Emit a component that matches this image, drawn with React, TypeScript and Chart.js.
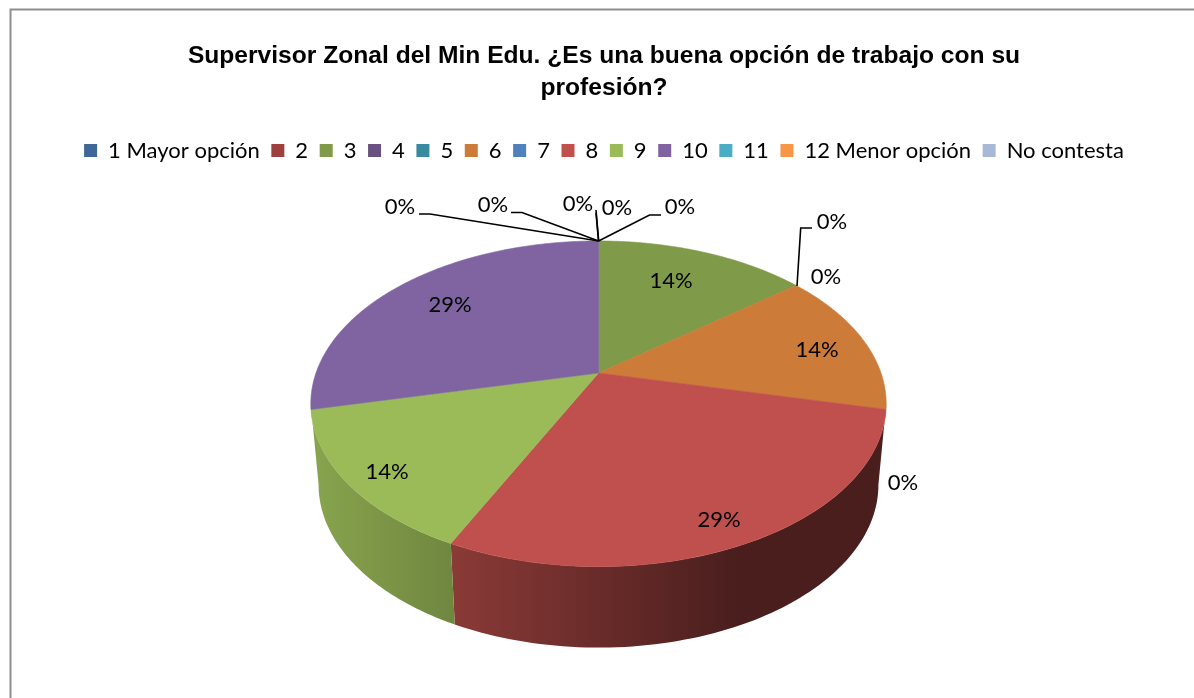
import React, { useEffect, useRef } from "react";
import { Chart, registerables } from "chart.js";

Chart.register(...registerables);

const categories = ["1 Mayor opción", "2", "3", "4", "5", "6", "7", "8", "9", "10", "11", "12 Menor opción", "No contesta"];
const responses = [0, 0, 1, 0, 0, 1, 0, 2, 1, 2, 0, 0, 0];
const sliceColors = ["#3F6797", "#9E413E", "#7F9A48", "#69527F", "#3A8A9F", "#CC7B38", "#4F81BD", "#C0504D", "#9BBB59", "#8064A2", "#4BACC6", "#F79646", "#A9B8D6"];
const titleLines = ["Supervisor Zonal del Min Edu. ¿Es una buena opción de trabajo con su", "profesión?"];

// page-space centres for the data labels, one per category
const labelCentres = [
  [617, 208], [680, 207], [671, 281], [832, 222], [826, 277], [817, 350], [903, 483],
  [719, 520], [387, 472], [450, 305], [400, 207], [493, 205], [578, 204],
];
// leader lines, by category index
const leaders: Record<number, number[][]> = {
  0: [[596, 210], [598.6, 241]],
  1: [[661, 215], [649.5, 215], [598.6, 241]],
  3: [[812, 228], [800.7, 228], [797, 286]],
  10: [[419, 214], [430, 214], [598.6, 241]],
  11: [[511, 212.5], [522, 212.5], [598.6, 241]],
  12: [[596, 213], [598.6, 241]],
};

// perspective view of the pie disc
const view = { hx: 598.5, hy: 373, a: 282.5, b: 157, k: 0.189, baseScaleX: 0.973, baseDrop: 81 };
const shadeStops = [[318, 0.87], [452, 0.72], [740, 0.38], [890, 0.38]];

function topPoint(theta: number, r = 1): [number, number] {
  const u = Math.sin(theta) * r;
  const v = -Math.cos(theta) * r;
  const w = 1 - view.k * v;
  return [view.hx + (view.a * u) / w, view.hy + (view.b * v) / w];
}
function basePoint(theta: number): [number, number] {
  const [x, y] = topPoint(theta);
  return [view.hx + (x - view.hx) * view.baseScaleX, y + view.baseDrop];
}
function hexToRgb(hex: string) {
  const n = parseInt(hex.slice(1), 16);
  return [(n >> 16) & 255, (n >> 8) & 255, n & 255];
}

const pie3d = {
  id: "pie3d",
  beforeDraw(chart: any) {
    const { ctx, width, height } = chart;
    ctx.save();
    ctx.fillStyle = "#fff";
    ctx.fillRect(0, 0, width, height);
    ctx.strokeStyle = "#8E8E8E";
    ctx.lineWidth = 2;
    ctx.beginPath();
    ctx.moveTo(10.5, height + 5);
    ctx.lineTo(10.5, 9.5);
    ctx.lineTo(width + 5, 9.5);
    ctx.stroke();
    ctx.restore();
  },
  beforeDatasetDraw(chart: any, args: any) {
    const { ctx } = chart;
    const meta = chart.getDatasetMeta(args.index);
    const arcs = meta.data;
    ctx.save();
    // side wall: slices whose middle faces the viewer own the whole near rim,
    // which runs between the two silhouette tangents of the projected disc
    const rimStart = Math.acos(-view.k);
    const rimEnd = 2 * Math.PI - rimStart;
    const near = arcs
      .map((el: any, i: number) => ({ el, i, mid: (el.startAngle + el.endAngle) / 2 + Math.PI / 2 }))
      .filter((o: any) => responses[o.i] > 0 && o.mid > rimStart && o.mid < rimEnd);
    near.forEach((o: any, n: number) => {
      const el = o.el;
      const t1 = n === 0 ? rimStart : el.startAngle + Math.PI / 2;
      const t2 = n === near.length - 1 ? rimEnd : el.endAngle + Math.PI / 2;
      const steps = 80;
      const pts: [number, number][] = [];
      for (let s = 0; s <= steps; s++) pts.push(topPoint(t1 + ((t2 - t1) * s) / steps));
      for (let s = steps; s >= 0; s--) pts.push(basePoint(t1 + ((t2 - t1) * s) / steps));
      const [r, g, b] = hexToRgb(el.options.backgroundColor);
      const g0 = shadeStops[0][0];
      const g1 = shadeStops[shadeStops.length - 1][0];
      const grad = ctx.createLinearGradient(g0, 0, g1, 0);
      shadeStops.forEach(([x, f]) => {
        grad.addColorStop((x - g0) / (g1 - g0), `rgb(${Math.round(r * f)},${Math.round(g * f)},${Math.round(b * f)})`);
      });
      ctx.fillStyle = grad;
      ctx.beginPath();
      pts.forEach(([x, y], m) => (m ? ctx.lineTo(x, y) : ctx.moveTo(x, y)));
      ctx.closePath();
      ctx.fill();
    });
    // top face
    arcs.forEach((el: any, i: number) => {
      if (responses[i] === 0) return;
      const t1 = el.startAngle + Math.PI / 2;
      const t2 = el.endAngle + Math.PI / 2;
      ctx.beginPath();
      ctx.moveTo(view.hx, view.hy);
      const steps = 120;
      for (let s = 0; s <= steps; s++) {
        const [x, y] = topPoint(t1 + ((t2 - t1) * s) / steps);
        ctx.lineTo(x, y);
      }
      ctx.closePath();
      ctx.fillStyle = el.options.backgroundColor;
      ctx.strokeStyle = el.options.backgroundColor;
      ctx.lineWidth = 0.6;
      ctx.fill();
      ctx.stroke();
    });
    ctx.restore();
    return false;
  },
  afterDatasetsDraw(chart: any) {
    const { ctx } = chart;
    const total = responses.reduce((a, b) => a + b, 0);
    ctx.save();
    ctx.strokeStyle = "#000";
    ctx.lineWidth = 1.6;
    Object.values(leaders).forEach((line) => {
      ctx.beginPath();
      line.forEach(([x, y], n) => (n ? ctx.lineTo(x, y) : ctx.moveTo(x, y)));
      ctx.stroke();
    });
    ctx.fillStyle = "#000";
    ctx.font = "22px Lato";
    ctx.textAlign = "center";
    ctx.textBaseline = "middle";
    responses.forEach((v, i) => {
      const [x, y] = labelCentres[i];
      ctx.fillText(`${Math.round((v / total) * 100)}%`, x, y);
    });
    ctx.restore();
  },
};

export default function App() {
  const ref = useRef<HTMLCanvasElement>(null);
  useEffect(() => {
    const chart = new Chart(ref.current!, {
      type: "pie",
      data: {
        labels: categories,
        datasets: [{ data: responses, backgroundColor: sliceColors, borderWidth: 0 }],
      },
      options: {
        animation: false,
        responsive: false,
        layout: { padding: { left: 14, top: 40 } },
        plugins: {
          title: {
            display: true,
            text: titleLines,
            color: "#000",
            font: { family: "Liberation Sans", size: 24.6, weight: "bold", lineHeight: 1.3 },
            padding: { top: 0, bottom: 24 },
          },
          legend: {
            position: "top",
            labels: {
              color: "#000",
              font: { family: "Lato", size: 22 },
              boxWidth: 13,
              boxHeight: 13,
              padding: 11.6,
            },
          },
          tooltip: { enabled: false },
        },
      },
      plugins: [pie3d],
    } as any);
    return () => chart.destroy();
  }, []);
  return (
    <canvas
      ref={ref}
      width={1194}
      height={698}
      style={{ position: "absolute", left: 0, top: 0, display: "block" }}
    />
  );
}
